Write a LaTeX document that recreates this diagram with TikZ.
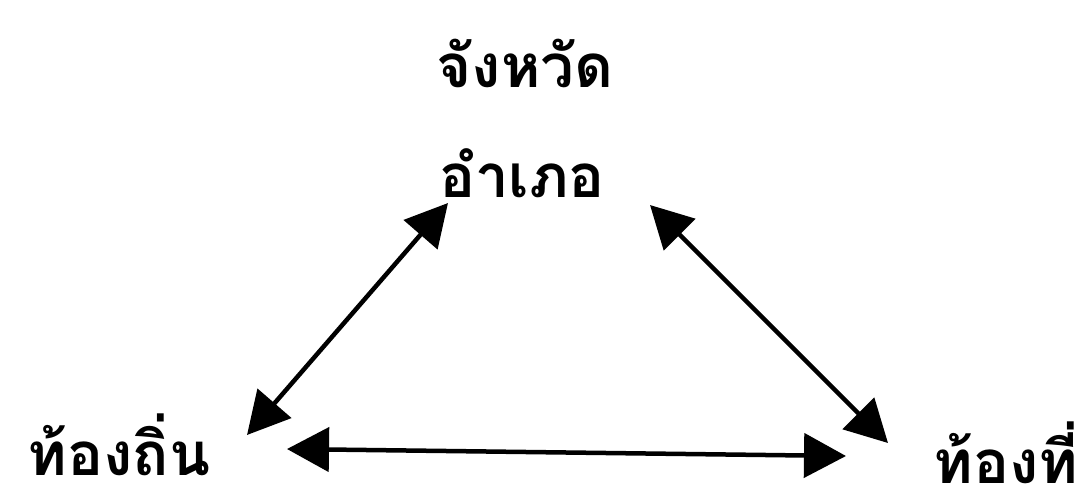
\documentclass[tikz,border=0pt]{standalone}
\usepackage{fontspec}
\newfontfamily\thaifont[Script=Thai]{Loma}
\usetikzlibrary{arrows.meta}
\begin{document}
\begin{tikzpicture}[x=1pt,y=-1pt,
  lbl/.style={font=\thaifont\bfseries\fontsize{60}{70}\selectfont, inner sep=0pt, text depth=0pt, anchor=base},
  link/.style={line width=4.5pt, {Triangle[length=42pt,width=44pt]}-{Triangle[length=42pt,width=44pt]}}]
\useasboundingbox (0,0) rectangle (1087,493);
\node[lbl] (prov) at (525,87) {จังหวัด};
\node[lbl] (dist) at (522,197) {อำเภอ};
\node[lbl] (local) at (119,475) {ท้องถิ่น};
\node[lbl] (area) at (1006,483) {ท้องที่};
\coordinate (dA) at (448,203);
\coordinate (lA) at (247,435);
\coordinate (dB) at (650,205);
\coordinate (aB) at (888,443);
\coordinate (lC) at (287,449);
\coordinate (aC) at (846,456);
\draw[link] (dA) -- (lA);
\draw[link] (dB) -- (aB);
\draw[link] (lC) -- (aC);
\end{tikzpicture}
\end{document}
